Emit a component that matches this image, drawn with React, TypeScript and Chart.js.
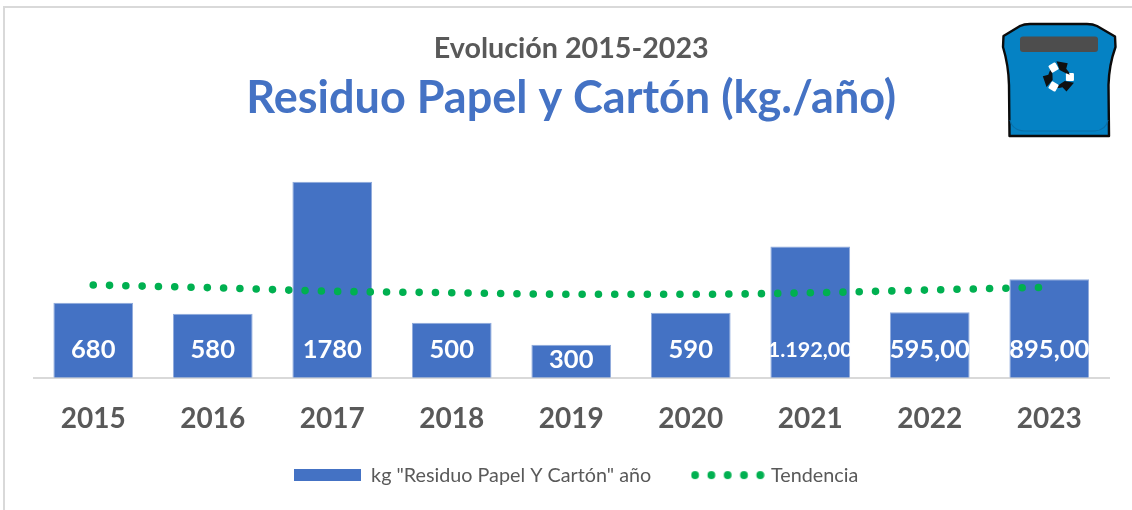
import React, { useEffect, useRef } from "react";
import { Chart, registerables } from "chart.js";

Chart.register(...registerables);

const categories = ["2015", "2016", "2017", "2018", "2019", "2020", "2021", "2022", "2023"];
const residuoValues = [680, 580, 1780, 500, 300, 590, 1192, 595, 895];
const tendenciaValues = [842, 817, 785, 772, 758, 758, 771, 797, 822];
const valueLabels = ["680", "580", "1780", "500", "300", "590", "1.192,00", "595,00", "895,00"];
const labelFontSizes = [25.5, 25.5, 25.5, 25.5, 25.5, 25.5, 21.5, 25.5, 25.5];
const labelAnchorValues = [251, 251, 251, 251, 160, 251, 251, 251, 251];
const barLabel = 'kg "Residuo Papel Y Cartón" año';
const lineLabel = "Tendencia";
const titleText = "Evolución 2015-2023";
const subtitleText = "Residuo Papel y Cartón (kg./año)";
const FONT = "Lato, Carlito, Calibri, sans-serif";
const BLUE = "#4472C4";
const GREEN = "#00B050";
const GREY = "#595959";

function swatchBar() {
  const c = document.createElement("canvas");
  c.width = 67;
  c.height = 12;
  const x = c.getContext("2d")!;
  x.fillStyle = BLUE;
  x.fillRect(0, 0, 67, 12);
  return c;
}

function swatchDots() {
  const c = document.createElement("canvas");
  c.width = 74;
  c.height = 10;
  const x = c.getContext("2d")!;
  x.fillStyle = GREEN;
  for (let i = 0; i < 5; i++) {
    x.beginPath();
    x.arc(4.4 + i * 16.3, 5, 3.9, 0, Math.PI * 2);
    x.fill();
  }
  return c;
}

const barValueLabels = {
  id: "barValueLabels",
  afterDatasetsDraw(chart: any) {
    const { ctx, scales } = chart;
    const meta = chart.getDatasetMeta(1);
    ctx.save();
    ctx.fillStyle = "#FFFFFF";
    ctx.textAlign = "center";
    ctx.textBaseline = "middle";
    meta.data.forEach((bar: any, i: number) => {
      const half = bar.width / 2;
      ctx.save();
      ctx.beginPath();
      ctx.rect(bar.x - half, scales.y.top, bar.width, scales.y.bottom - scales.y.top);
      ctx.clip();
      ctx.font = `bold ${labelFontSizes[i]}px ${FONT}`;
      ctx.fillText(valueLabels[i], bar.x, scales.y.getPixelForValue(labelAnchorValues[i]));
      ctx.restore();
    });
    ctx.restore();
  },
};

export default function App() {
  const ref = useRef<HTMLCanvasElement>(null);
  useEffect(() => {
    document.body.style.margin = "0";
    const chart = new Chart(ref.current!, {
      type: "bar",
      data: {
        labels: categories,
        datasets: [
          {
            type: "line",
            label: lineLabel,
            data: tendenciaValues,
            borderColor: GREEN,
            backgroundColor: GREEN,
            borderWidth: 7.6,
            borderDash: [0, 16.3],
            borderCapStyle: "round",
            tension: 0.4,
            cubicInterpolationMode: "monotone",
            pointRadius: 0,
            order: 0,
          },
          {
            type: "bar",
            label: barLabel,
            data: residuoValues,
            backgroundColor: BLUE,
            borderColor: "#8FAADC",
            borderWidth: 1,
            barPercentage: 0.667,
            categoryPercentage: 1,
            order: 1,
          },
        ],
      } as any,
      plugins: [barValueLabels],
      options: {
        responsive: false,
        animation: false,
        layout: { padding: { left: 33.5, right: 13, top: 32, bottom: 15 } },
        scales: {
          x: {
            grid: { display: false },
            border: { color: "#D9D9D9", width: 2 },
            ticks: {
              color: GREY,
              padding: 16.5,
              maxRotation: 0,
              font: { family: FONT, size: 28, weight: "bold" },
            },
            afterFit(s: any) {
              s.height = 44.5;
              s._computeLabelArea = () => undefined;
            },
          },
          y: {
            position: "right",
            min: 0,
            max: 2000,
            grid: { display: false },
            border: { display: false },
            ticks: { display: false },
            afterFit(s: any) {
              s.width = 10;
            },
          },
        },
        plugins: {
          title: {
            display: true,
            text: titleText,
            fullSize: false,
            color: GREY,
            font: { family: FONT, size: 28.7, weight: "bold" },
            padding: { top: 0, bottom: 5 },
          },
          subtitle: {
            display: true,
            text: subtitleText,
            fullSize: false,
            color: BLUE,
            font: { family: FONT, size: 45, weight: "bold" },
            padding: { top: 0, bottom: 32 },
          },
          legend: {
            position: "bottom",
            labels: {
              color: GREY,
              padding: 43,
              usePointStyle: true,
              pointStyleWidth: 67,
              font: { family: FONT, size: 19.75 },
              generateLabels: () => [
                { text: barLabel, pointStyle: swatchBar(), fontColor: GREY, lineWidth: 0, datasetIndex: 1 },
                { text: lineLabel, pointStyle: swatchDots(), fontColor: GREY, lineWidth: 0, datasetIndex: 0 },
              ],
            },
          },
          tooltip: { enabled: false },
        },
      },
    } as any);
    return () => chart.destroy();
  }, []);

  return (
    <div style={{ position: "relative", width: 1132, height: 510, overflow: "hidden", background: "#fff" }}>
      <canvas ref={ref} width={1132} height={510} style={{ display: "block" }} />
      <div
        style={{
          position: "absolute",
          left: 3,
          top: 6,
          width: 1200,
          height: 600,
          border: "2px solid #D9D9D9",
          pointerEvents: "none",
        }}
      />
      <svg
        width={120}
        height={120}
        viewBox="0 0 120 120"
        style={{ position: "absolute", left: 1000, top: 20 }}
      >
        <path
          d="M3.5 16 L20 6 Q24 4 30 4 L87 4 Q93 4 97 6 L115 16.5 L115.5 27 Q109 45 108.5 65 L109 116 L9.5 116 L9 65 Q8.5 45 3 27 Z"
          fill="#0582C4"
          stroke="#0B0B0B"
          strokeWidth={2.4}
          strokeLinejoin="round"
        />
        <path d="M10 100 Q12 110 24 111 L95 111 Q106 110 108 100" fill="none" stroke="#0A6FA8" strokeWidth={1.2} />
        <rect x={20} y={16.5} width={78} height={15.5} rx={3} fill="#4D4D4D" />
        <g transform="translate(59 57) scale(1.15)">
          {[0, 120, 240].map((a) => (
            <g key={a} transform={`rotate(${a})`}>
              <rect x={6} y={-3.5} width={7} height={7} rx={1} fill="#FFFFFF" />
              <path d="M5 3.5 L13 5 L6.5 12.5 L3 9 Q-1 10 -3 9 L1 6 Z" fill="#101010" />
            </g>
          ))}
        </g>
      </svg>
    </div>
  );
}
